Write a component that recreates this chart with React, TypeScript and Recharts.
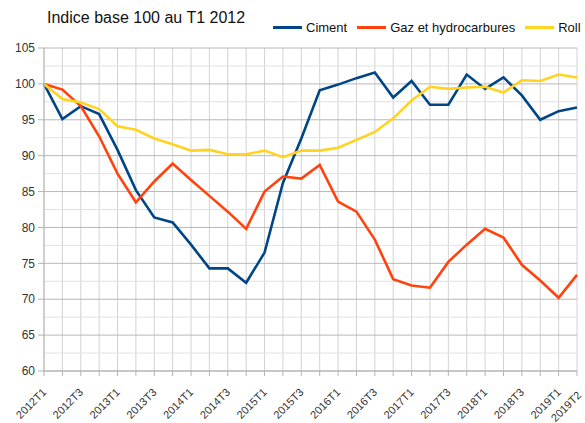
import React from "react";
import { LineChart, Line, XAxis, YAxis, CartesianGrid, ReferenceLine } from "recharts";

const quarters = [
  "2012T1", "2012T2", "2012T3", "2012T4",
  "2013T1", "2013T2", "2013T3", "2013T4",
  "2014T1", "2014T2", "2014T3", "2014T4",
  "2015T1", "2015T2", "2015T3", "2015T4",
  "2016T1", "2016T2", "2016T3", "2016T4",
  "2017T1", "2017T2", "2017T3", "2017T4",
  "2018T1", "2018T2", "2018T3", "2018T4",
  "2019T1", "2019T2",
];

const ciment = [
  100, 95.1, 96.9, 95.8, 90.8, 85.2, 81.4, 80.7, 77.6, 74.3,
  74.3, 72.3, 76.5, 86.2, 92.4, 99.1, 99.9, 100.8, 101.6, 98.1,
  100.4, 97.1, 97.1, 101.3, 99.3, 100.9, 98.4, 95.0, 96.2, 96.7,
];

const gaz = [
  100, 99.2, 96.9, 92.7, 87.5, 83.5, 86.4, 88.9, 86.6, 84.4,
  82.2, 79.8, 85.0, 87.1, 86.8, 88.7, 83.6, 82.2, 78.3, 72.8,
  71.9, 71.6, 75.2, 77.6, 79.8, 78.6, 74.8, 72.6, 70.2, 73.4,
];

const roll = [
  100, 97.9, 97.4, 96.5, 94.1, 93.6, 92.4, 91.6, 90.7, 90.8,
  90.2, 90.2, 90.7, 89.8, 90.7, 90.7, 91.1, 92.2, 93.3, 95.2,
  97.7, 99.6, 99.3, 99.5, 99.6, 98.8, 100.5, 100.4, 101.3, 100.9,
];

const yTicks = [60, 65, 70, 75, 80, 85, 90, 95, 100, 105];
const yMinor = [62.5, 67.5, 72.5, 77.5, 82.5, 87.5, 92.5, 97.5, 102.5];

const data = quarters.map((q, i) => ({ q, ciment: ciment[i], gaz: gaz[i], roll: roll[i] }));

const font = "'Liberation Sans', Arial, sans-serif";

const legendItems = [
  { label: "Ciment", color: "#004586" },
  { label: "Gaz et hydrocarbures", color: "#ff420e" },
  { label: "Roll", color: "#ffd320" },
];

// only every other quarter gets a label, plus the last one (pushed down a bit, as in the source)
const XTick = (props: any) => {
  const { x, y, payload } = props;
  const idx = quarters.indexOf(payload.value);
  const last = idx === quarters.length - 1;
  if (idx % 2 !== 0 && !last) return null;
  const ax = last ? x + 5 : x + 3;
  const ay = last ? y + 18 : y + 15;
  return (
    <text
      x={ax}
      y={ay}
      transform={`rotate(-45 ${ax} ${ay})`}
      textAnchor="end"
      fontSize={11}
      fontFamily={font}
      fill="#333"
    >
      {payload.value}
    </text>
  );
};

export default function App() {
  return (
    <div style={{ position: "absolute", left: 0, top: 0, width: 585, height: 423, overflow: "hidden", background: "#fff", fontFamily: font }}>
      <div style={{ position: "absolute", left: 47, top: 9, fontSize: 16, color: "#111", whiteSpace: "nowrap" }}>
        Indice base 100 au T1 2012
      </div>
      <div style={{ position: "absolute", left: 273, top: 20, display: "flex", alignItems: "center", fontSize: 13, color: "#111", whiteSpace: "nowrap" }}>
        {legendItems.map((it) => (
          <div key={it.label} style={{ display: "flex", alignItems: "center", marginRight: 10 }}>
            <span style={{ display: "inline-block", width: 29, height: 3, background: it.color, marginRight: 4 }} />
            <span>{it.label}</span>
          </div>
        ))}
      </div>
      <LineChart width={585} height={423} data={data} margin={{ top: 48, right: 8, bottom: 0, left: 0 }} style={{ overflow: "visible" }}>
        <CartesianGrid horizontal={false} stroke="#d2d2d2" />
        {yMinor.map((v) => (
          <ReferenceLine key={v} y={v} stroke="#e2e2e2" />
        ))}
        {yTicks.map((v) => (
          <ReferenceLine key={v} y={v} stroke="#b8b8b8" />
        ))}
        <XAxis
          dataKey="q"
          interval={0}
          tick={<XTick />}
          tickSize={5}
          height={52}
          stroke="#b3b3b3"
        />
        <YAxis
          domain={[60, 105]}
          ticks={yTicks}
          width={44}
          tickSize={6}
          tickMargin={3}
          stroke="#b3b3b3"
          tick={{ fontSize: 12, fill: "#333", fontFamily: font }}
        />
        <Line dataKey="ciment" stroke="#004586" strokeWidth={2.6} dot={false} isAnimationActive={false} />
        <Line dataKey="gaz" stroke="#ff420e" strokeWidth={2.6} dot={false} isAnimationActive={false} />
        <Line dataKey="roll" stroke="#ffd320" strokeWidth={2.6} dot={false} isAnimationActive={false} />
      </LineChart>
    </div>
  );
}
